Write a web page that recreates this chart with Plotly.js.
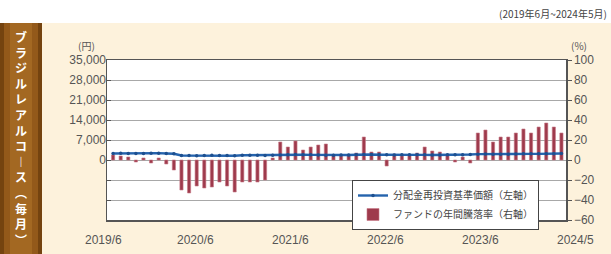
<!DOCTYPE html>
<html><head><meta charset="utf-8">
<script src="https://cdn.plot.ly/plotly-3.0.1.min.js"></script>
<style>html,body{margin:0;padding:0;background:#fdf2dc;}#c{width:611px;height:254px;}</style>
</head><body><div id="c"></div>
<script>
// months Jun 2019 .. May 2024 (60)
const months = [];
for (let y = 2019, m = 6; months.length < 60; ) { months.push(y + '/' + m); m++; if (m > 12) { m = 1; y++; } }
const navYen = [2300,2350,2300,2250,2300,2350,2400,2300,2200,
  1600,1550,1500,1550,1650,1600,1550,1500,1650,1700,
  1650,1600,1650,1750,1800,1900,1850,1800,1750,1700,1700,1750,
  1750,1850,1950,1900,1850,1800,1750,1800,1800,1850,1800,1750,
  1750,1800,1800,1850,1950,2050,2100,2050,2050,2000,2100,2150,
  2150,2150,2200,2200,2250];
const annualPct = [5,4,3,-2,2,-3,2,-4,-10,
  -30,-33,-26,-28,-27,-22,-26,-32,-22,-22,-22,-20,
  2,18,13,19,10,13,15,16,5,4,5,7,
  23,8,8,-6,6,4,5,7,13,9,8,5,
  -2,3,-3,27,30,18,23,23,27,31,27,33,37,33,27];
const xTickLabels = ['2019/6','2020/6','2021/6','2022/6','2023/6','2024/5'];
const xTickPos = [-1.2, 10.8, 23.3, 35.8, 48.3, 60.8];
const pctTicks = [-60,-40,-20,0,20,40,60,80,100];
const yenTicks = [-21000,-14000,-7000,0,7000,14000,21000,28000,35000];
const yenTickText = yenTicks.map(v => v < 0 ? '' : v.toLocaleString('en-US'));
const seriesNames = ['分配金再投資基準価額（左軸）','ファンドの年間騰落率（右軸）'];
const sideTitle = ['ブ','ラ','ジ','ル','レ','ア','ル','コ','︱','ス','︵','毎','月','︶'];

const idx = months.map((_, i) => i);
const W = 611, H = 254, L = 107, R = 566, T = 60, B = 220;
const xRange = [-0.8, 59.6];
const px2x = p => (p - L) / (R - L);
const px2y = p => (B - p) / (B - T);
const val2x = v => (v - xRange[0]) / (xRange[1] - xRange[0]);

const traces = [
  { type: 'bar', x: idx, y: annualPct, name: seriesNames[1], yaxis: 'y',
    marker: { color: '#9e3a4c', line: { color: '#c77b88', width: 0.6 } }, width: 0.42, legendrank: 2 },
  { type: 'scatter', mode: 'lines+markers', x: idx, y: navYen, name: seriesNames[0], yaxis: 'y2',
    line: { color: '#2563ad', width: 2.4 }, marker: { color: '#1d4f8f', size: 3.5 }, legendrank: 1 }
];

const tickFont = { size: 12, color: '#555', family: 'Liberation Sans, Arial' };
const ann = [
  { text: '(2019年6月~2024年5月)', x: px2x(553), y: px2y(13), xanchor: 'center', yanchor: 'middle',
    font: { size: 10, color: '#444', family: 'Noto Sans CJK JP' } },
  { text: '(円)', x: px2x(86), y: px2y(45), xanchor: 'center', yanchor: 'middle',
    font: { size: 10, color: '#555', family: 'Noto Sans CJK JP' } },
  { text: '(%)', x: px2x(579), y: px2y(45), xanchor: 'center', yanchor: 'middle',
    font: { size: 10, color: '#555', family: 'Noto Sans CJK JP' } },
  { text: '<b>' + sideTitle.join('<br>') + '</b>', x: px2x(21), y: px2y(138), xanchor: 'center', yanchor: 'middle',
    font: { size: 12, color: '#ffffff', family: 'Noto Sans CJK JP' } }
];
xTickLabels.forEach((t, i) => {
  ann.push({ text: t, x: val2x(xTickPos[i]), y: px2y(240), xanchor: 'center', yanchor: 'middle', font: tickFont });
});
ann.forEach(a => { a.xref = 'paper'; a.yref = 'paper'; a.showarrow = false; });

const shapes = [
  { type: 'rect', xref: 'paper', yref: 'paper', x0: px2x(0), x1: px2x(W), y0: px2y(0), y1: px2y(23),
    fillcolor: '#ffffff', line: { width: 0 }, layer: 'below' },
  { type: 'rect', xref: 'paper', yref: 'paper', x0: px2x(0), x1: px2x(42), y0: px2y(23), y1: px2y(H),
    fillcolor: '#74430f', line: { width: 0 }, layer: 'below' },
  { type: 'rect', xref: 'paper', yref: 'paper', x0: px2x(4), x1: px2x(38), y0: px2y(23), y1: px2y(H),
    fillcolor: '#93591a', line: { width: 0 }, layer: 'below' },
  { type: 'rect', xref: 'paper', yref: 'paper', x0: px2x(10), x1: px2x(32), y0: px2y(23), y1: px2y(H),
    fillcolor: '#a36822', line: { width: 0 }, layer: 'below' }
];

const layout = {
  width: W, height: H, margin: { l: L, r: W - R, t: T, b: H - B },
  paper_bgcolor: '#fdf2dc', plot_bgcolor: '#ffffff', showlegend: true, bargap: 0.5,
  xaxis: { range: xRange, showticklabels: false, showgrid: false, zeroline: false,
    ticks: '', showline: true, mirror: true, linecolor: '#555', linewidth: 1.5, fixedrange: true },
  yaxis: { range: [-60, 100], side: 'right', tickvals: pctTicks, showgrid: true, gridcolor: '#a8a8a8', gridwidth: 1,
    zeroline: false, ticks: 'outside', ticklen: 4, tickcolor: '#555', tickfont: tickFont,
    showline: true, mirror: true, linecolor: '#555', linewidth: 1.5 },
  yaxis2: { range: [-21000, 35000], side: 'left', overlaying: 'y', tickvals: yenTicks, ticktext: yenTickText,
    showgrid: false, zeroline: false, ticks: 'inside', ticklen: 4, tickcolor: '#555', tickfont: tickFont, showline: false },
  legend: { x: px2x(352), y: px2y(180), xanchor: 'left', yanchor: 'top', bgcolor: '#ffffff', bordercolor: '#444',
    borderwidth: 1, font: { size: 10, color: '#444', family: 'Noto Sans CJK JP' }, tracegroupgap: 0, itemwidth: 30 },
  annotations: ann, shapes: shapes
};
Plotly.newPlot('c', traces, layout, { displayModeBar: false, staticPlot: true });
</script></body></html>
